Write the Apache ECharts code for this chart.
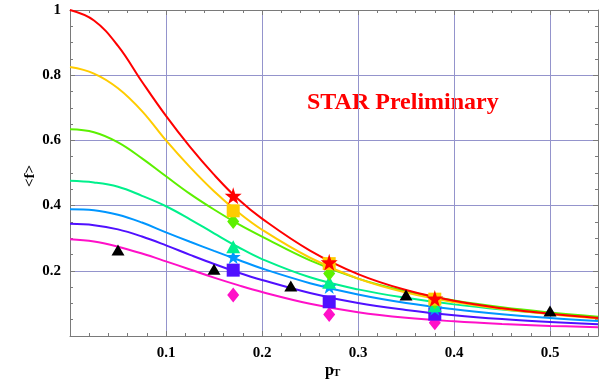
<!DOCTYPE html>
<html>
<head>
<meta charset="utf-8">
<script src="https://cdn.jsdelivr.net/npm/echarts@6/dist/echarts.min.js"></script>
<style>
  html, body { margin: 0; padding: 0; background: #fff; }
  #chart { width: 616px; height: 381px; }
</style>
</head>
<body>
<div id="chart"></div>
<script>
// pT sample points for the fitted curves
const ptGrid = [0, 0.025, 0.05, 0.075, 0.1, 0.125, 0.15, 0.175, 0.2, 0.25, 0.3, 0.35, 0.4, 0.45, 0.5, 0.55]

// fit curves (one per centrality)
const redCurve = [1.0, 0.968, 0.89, 0.78, 0.675, 0.58, 0.495, 0.42, 0.36, 0.262, 0.19, 0.141, 0.108, 0.085, 0.068, 0.055]
const yellowCurve = [0.825, 0.805, 0.76, 0.69, 0.6, 0.518, 0.444, 0.38, 0.326, 0.24, 0.176, 0.133, 0.104, 0.083, 0.067, 0.054]
const greenCurve = [0.634, 0.625, 0.594, 0.545, 0.49, 0.436, 0.388, 0.344, 0.305, 0.232, 0.176, 0.137, 0.109, 0.088, 0.072, 0.059]
const springCurve = [0.476, 0.471, 0.458, 0.43, 0.398, 0.358, 0.315, 0.273, 0.236, 0.18, 0.143, 0.117, 0.097, 0.081, 0.068, 0.057]
const blueCurve = [0.389, 0.386, 0.372, 0.348, 0.318, 0.289, 0.261, 0.234, 0.207, 0.162, 0.127, 0.101, 0.082, 0.067, 0.055, 0.046]
const indigoCurve = [0.344, 0.34, 0.327, 0.305, 0.278, 0.249, 0.221, 0.195, 0.172, 0.132, 0.101, 0.08, 0.064, 0.052, 0.043, 0.036]
const magentaCurve = [0.297, 0.29, 0.274, 0.253, 0.229, 0.204, 0.179, 0.156, 0.135, 0.099, 0.073, 0.056, 0.045, 0.037, 0.031, 0.027]

// measured points
const markerPt = [0.17, 0.27, 0.38]
const redPts = [0.43, 0.226, 0.115]
const yellowPts = [0.384, 0.222, 0.113]
const greenPts = [0.351, 0.192, 0.105]
const springPts = [0.274, 0.165, 0.093]
const bluePts = [0.243, 0.152, 0.085]
const indigoPts = [0.202, 0.105, 0.067]
const magentaPts = [0.126, 0.066, 0.041]

// black triangles
const blackPt = [0.05, 0.15, 0.23, 0.35, 0.5]
const blackVals = [0.264, 0.205, 0.153, 0.126, 0.077]

const starPath = 'path://M50,0 L61,35 L98,35 L68,57 L79,91 L50,70 L21,91 L32,57 L2,35 L39,35 Z'
const serif = 'Liberation Serif'
const frameColor = '#7a7a7a'
const gridColor = '#9494cc'

function zip(xs, ys) {
  return xs.map((x, i) => [x, ys[i]])
}

function curve(data, color) {
  return {
    type: 'line',
    data: zip(ptGrid, data),
    smooth: 0.4,
    showSymbol: false,
    symbol: 'none',
    lineStyle: { color: color, width: 2 },
    z: 2,
    animation: false
  }
}

function points(xs, ys, symbol, size, color) {
  return {
    type: 'scatter',
    data: zip(xs, ys),
    symbol: symbol,
    symbolSize: size,
    itemStyle: { color: color, opacity: 1 },
    z: 3,
    animation: false
  }
}

const chart = echarts.init(document.getElementById('chart'), null, { renderer: 'canvas' })

const axisTickCommon = {
  axisLine: { show: true, onZero: false, lineStyle: { color: frameColor, width: 1 } },
  axisTick: { show: true, inside: true, length: 5, lineStyle: { color: frameColor } }
}

chart.setOption({
  backgroundColor: '#fff',
  animation: false,
  grid: { left: 70, right: 18, top: 10, bottom: 45, containLabel: false },
  xAxis: [
    {
      type: 'value',
      min: 0,
      max: 0.55,
      interval: 0.1,
      ...axisTickCommon,
      minorTick: { show: true, splitNumber: 5, length: 3, lineStyle: { color: frameColor } },
      splitLine: { show: true, lineStyle: { color: gridColor, width: 1 } },
      axisLabel: {
        margin: 10,
        color: '#000',
        fontFamily: serif,
        fontWeight: 'bold',
        fontSize: 15,
        formatter: v => (v === 0 || v > 0.5001) ? '' : v.toFixed(1)
      }
    },
    {
      type: 'value',
      position: 'top',
      min: 0,
      max: 0.55,
      interval: 0.1,
      ...axisTickCommon,
      minorTick: { show: true, splitNumber: 5, length: 3, lineStyle: { color: frameColor } },
      splitLine: { show: false },
      axisLabel: { show: false }
    }
  ],
  yAxis: [
    {
      type: 'value',
      min: 0,
      max: 1,
      interval: 0.2,
      ...axisTickCommon,
      minorTick: { show: true, splitNumber: 4, length: 3, lineStyle: { color: frameColor } },
      splitLine: { show: true, lineStyle: { color: gridColor, width: 1 } },
      axisLabel: {
        margin: 9,
        color: '#000',
        fontFamily: serif,
        fontWeight: 'bold',
        fontSize: 15,
        formatter: v => v === 0 ? '' : (v === 1 ? '1' : v.toFixed(1))
      }
    },
    {
      type: 'value',
      position: 'right',
      min: 0,
      max: 1,
      interval: 0.2,
      ...axisTickCommon,
      minorTick: { show: true, splitNumber: 4, length: 3, lineStyle: { color: frameColor } },
      splitLine: { show: false },
      axisLabel: { show: false }
    }
  ],
  graphic: [
    {
      type: 'text',
      left: 307,
      top: 91,
      style: {
        text: 'STAR Preliminary',
        fill: '#ff0000',
        font: 'bold 24px "Liberation Serif"'
      }
    },
    {
      type: 'text',
      x: 30,
      y: 176,
      rotation: Math.PI / 2,
      style: {
        text: '<f>',
        fill: '#000',
        font: 'bold 15px "Liberation Serif"',
        textAlign: 'center',
        textVerticalAlign: 'middle'
      }
    },
    {
      type: 'text',
      x: 325,
      y: 363,
      style: { text: 'p', fill: '#000', font: 'bold 16px "Liberation Serif"' }
    },
    {
      type: 'text',
      x: 333,
      y: 368,
      style: { text: 'T', fill: '#000', font: 'bold 11px "Liberation Serif"' }
    }
  ],
  series: [
    curve(magentaCurve, '#ff10c8'),
    curve(indigoCurve, '#5010ff'),
    curve(blueCurve, '#0096ff'),
    curve(springCurve, '#00f08c'),
    curve(greenCurve, '#5cf000'),
    curve(yellowCurve, '#ffcc00'),
    curve(redCurve, '#ff0000'),
    points(markerPt, magentaPts, 'diamond', [12, 15], '#ff10c8'),
    points(markerPt, indigoPts, 'rect', 13, '#5010ff'),
    points(markerPt, bluePts, starPath, 15, '#0096ff'),
    points(markerPt, springPts, 'triangle', [14, 13], '#00f08c'),
    points(markerPt, greenPts, 'diamond', [12, 15], '#5cf000'),
    points(markerPt, yellowPts, 'rect', 13, '#ffcc00'),
    points(markerPt, redPts, starPath, 17, '#ff0000'),
    points(blackPt, blackVals, 'triangle', [13, 11], '#000')
  ]
})
</script>
</body>
</html>
